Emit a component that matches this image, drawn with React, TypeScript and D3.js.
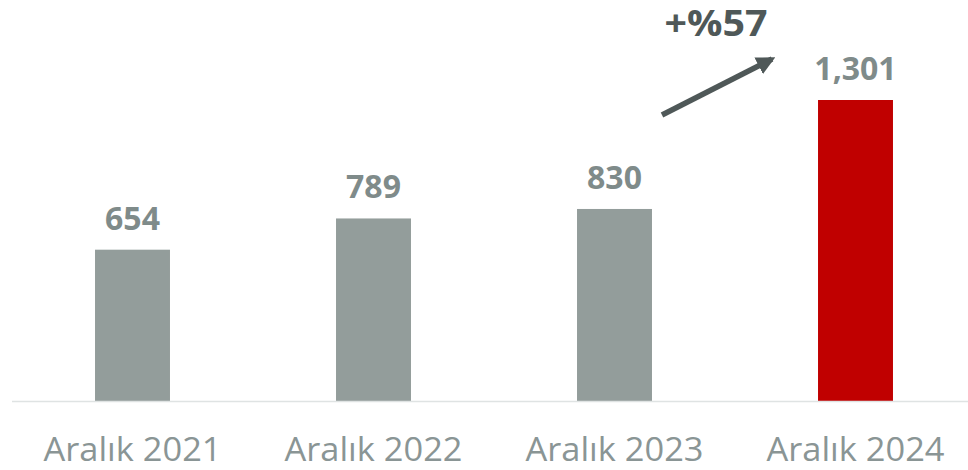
import { useEffect, useRef } from "react";
import * as d3 from "d3";

const categories = ["Aralık 2021", "Aralık 2022", "Aralık 2023", "Aralık 2024"];
const values = [654, 789, 830, 1301];
const barColors = ["#939d9b", "#939d9b", "#939d9b", "#c00000"];
const growthLabel = "+%57";

export default function App() {
  const svgRef = useRef<SVGSVGElement>(null);

  useEffect(() => {
    if (!svgRef.current) return;
    const svg = d3.select(svgRef.current);
    svg.selectAll("*").remove();

    const width = 968;
    const height = 470;
    const baseY = 401;
    const font = "'Open Sans', 'Noto Sans', sans-serif";

    const x = d3
      .scaleBand<string>()
      .domain(categories)
      .range([12, 976])
      .paddingInner(0.689)
      .paddingOuter(0.3445);

    const y = d3.scaleLinear().domain([0, 1301]).range([baseY, 100]);

    // bars
    svg
      .selectAll("rect.bar")
      .data(values)
      .enter()
      .append("rect")
      .attr("class", "bar")
      .attr("x", (_, i) => x(categories[i])!)
      .attr("y", (d) => y(d))
      .attr("width", x.bandwidth())
      .attr("height", (d) => baseY - y(d))
      .attr("fill", (_, i) => barColors[i]);

    // baseline
    svg
      .append("line")
      .attr("x1", 12)
      .attr("x2", width)
      .attr("y1", baseY + 0.5)
      .attr("y2", baseY + 0.5)
      .attr("stroke", "#dfe3e3")
      .attr("stroke-width", 1.5);

    // value labels
    svg
      .selectAll("text.val")
      .data(values)
      .enter()
      .append("text")
      .attr("class", "val")
      .attr("x", (_, i) => x(categories[i])! + x.bandwidth() / 2)
      .attr("y", (d) => y(d) - 20)
      .attr("text-anchor", "middle")
      .attr("font-family", font)
      .attr("font-size", "32px")
      .attr("font-weight", "bold")
      .attr("fill", "#7f8b8a")
      .text((d) => d3.format(",")(d));

    // category labels
    svg
      .selectAll("text.cat")
      .data(categories)
      .enter()
      .append("text")
      .attr("class", "cat")
      .attr("x", (d) => x(d)! + x.bandwidth() / 2)
      .attr("y", 461)
      .attr("text-anchor", "middle")
      .attr("font-family", font)
      .attr("font-size", "32px")
      .attr("fill", "#8a9595")
      .attr("textLength", 178)
      .attr("lengthAdjust", "spacingAndGlyphs")
      .text((d) => d);

    // growth arrow
    const defs = svg.append("defs");
    defs
      .append("marker")
      .attr("id", "arrowHead")
      .attr("viewBox", "0 0 10 10")
      .attr("refX", 8)
      .attr("refY", 5)
      .attr("markerWidth", 3.4)
      .attr("markerHeight", 3.4)
      .attr("orient", "auto")
      .append("path")
      .attr("d", "M0,0 L10,5 L0,10 Z")
      .attr("fill", "#4f5858");

    svg
      .append("line")
      .attr("x1", 662)
      .attr("y1", 115)
      .attr("x2", 772)
      .attr("y2", 59)
      .attr("stroke", "#4f5858")
      .attr("stroke-width", 5.5)
      .attr("marker-end", "url(#arrowHead)");

    svg
      .append("text")
      .attr("x", 716)
      .attr("y", 36)
      .attr("text-anchor", "middle")
      .attr("font-family", font)
      .attr("font-size", "36px")
      .attr("font-weight", "bold")
      .attr("fill", "#4f5858")
      .attr("textLength", 103)
      .attr("lengthAdjust", "spacingAndGlyphs")
      .text(growthLabel);

    svg.attr("width", width).attr("height", height);
  }, []);

  return (
    <svg
      ref={svgRef}
      width={968}
      height={470}
      style={{ position: "absolute", left: 0, top: 0 }}
    />
  );
}
